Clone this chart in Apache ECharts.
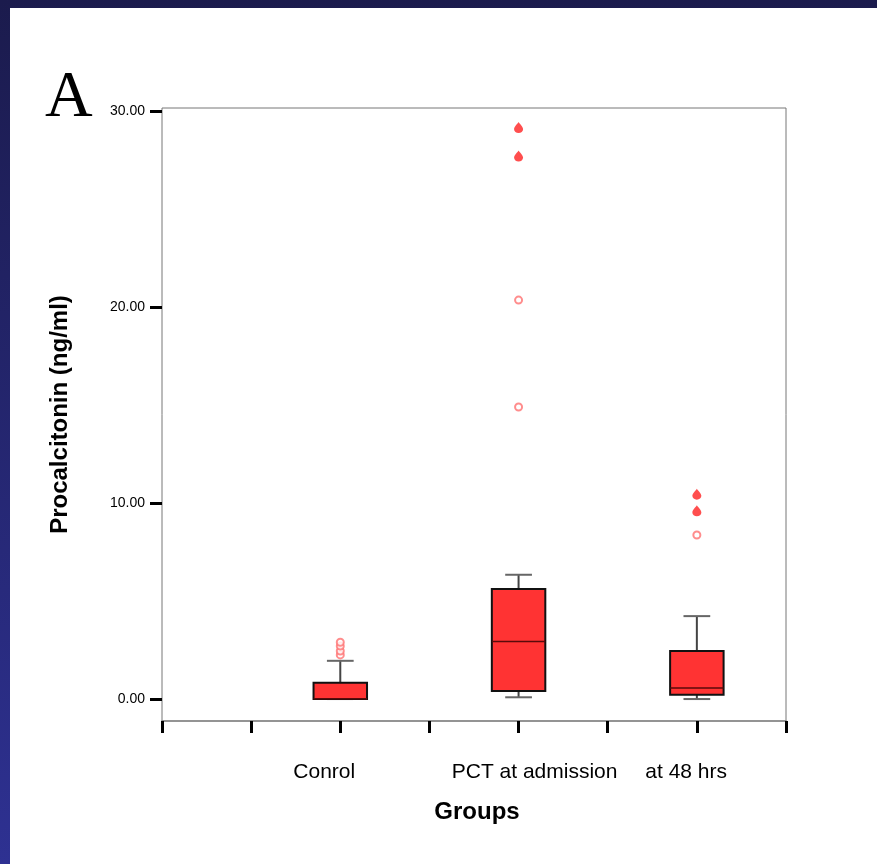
<!DOCTYPE html>
<html>
<head>
<meta charset="utf-8">
<script src="https://cdn.jsdelivr.net/npm/echarts@6/dist/echarts.min.js"></script>
<style>
  html, body { margin: 0; padding: 0; }
  body { width: 877px; height: 864px; background: linear-gradient(#1b1b4d, #2e3192); position: relative; overflow: hidden; }
  #main { position: absolute; left: 10px; top: 8px; width: 867px; height: 856px; background: #fff; }
</style>
</head>
<body>
<div id="main"></div>
<script>
// groups and where they sit on the 0..7 x scale
const groups = ['Conrol', 'PCT at admission', 'at 48 hrs'];
const groupPos = [2, 4, 6];
// label anchors (SPSS draws them a bit off the ticks)
const labelPos = [1.82, 4.18, 5.88];

// [min, Q1, median, Q3, max] per group
const boxStats = [
  [0, 0, 0.02, 0.83, 1.95],
  [0.09, 0.41, 2.94, 5.61, 6.34],
  [0, 0.22, 0.56, 2.45, 4.23]
];
// outliers (o) and extremes (*)
const outliers = [
  [2.25, 2.45, 2.7, 2.9],
  [14.9, 20.35],
  [8.37]
];
const extremes = [
  [],
  [27.7, 29.15],
  [9.6, 10.45]
];
const yTicks = [0, 10, 20, 30];

const font = 'Liberation Sans, Arial, Helvetica, sans-serif';

let boxData = boxStats.map((s, i) => [groupPos[i]].concat(s));
let outData = [];
outliers.forEach((arr, i) => arr.forEach(v => outData.push([groupPos[i], v])));
let extData = [];
extremes.forEach((arr, i) => arr.forEach(v => extData.push([groupPos[i], v])));

function renderBox(params, api) {
  const x = api.value(0);
  const lo = api.coord([x, api.value(1)]);
  const q1 = api.coord([x, api.value(2)]);
  const md = api.coord([x, api.value(3)]);
  const q3 = api.coord([x, api.value(4)]);
  const hi = api.coord([x, api.value(5)]);
  const w = api.size([0.6, 0])[0];
  const cx = q1[0];
  const whisker = {stroke: '#444', lineWidth: 2};
  const cap = {stroke: '#666', lineWidth: 2};
  return {
    type: 'group',
    children: [
      {type: 'line', shape: {x1: cx, y1: q3[1], x2: cx, y2: hi[1]}, style: whisker},
      {type: 'line', shape: {x1: cx, y1: q1[1], x2: cx, y2: lo[1]}, style: whisker},
      {type: 'line', shape: {x1: cx - w / 4, y1: hi[1], x2: cx + w / 4, y2: hi[1]}, style: cap},
      {type: 'line', shape: {x1: cx - w / 4, y1: lo[1], x2: cx + w / 4, y2: lo[1]}, style: cap},
      {type: 'rect', shape: {x: cx - w / 2, y: q3[1], width: w, height: q1[1] - q3[1]},
        style: {fill: '#ff3333', stroke: '#111', lineWidth: 2}},
      {type: 'line', shape: {x1: cx - w / 2, y1: md[1], x2: cx + w / 2, y2: md[1]},
        style: {stroke: '#5a0a0a', lineWidth: 1.5}}
    ]
  };
}

const chart = echarts.init(document.getElementById('main'));
chart.setOption({
  animation: false,
  backgroundColor: '#fff',
  textStyle: {fontFamily: font},
  graphic: [{
    type: 'text', left: 35, top: 58,
    style: {text: 'A', font: '66px "Liberation Serif", "Times New Roman", serif', fill: '#000'}
  }],
  grid: {left: 152, right: 91, top: 100, bottom: 143, show: true, borderColor: '#777', borderWidth: 1},
  xAxis: [{
    type: 'value', min: 0, max: 7, interval: 1, position: 'bottom',
    axisLine: {show: true, onZero: false, lineStyle: {color: '#888', width: 1.5}},
    axisTick: {show: true, length: 12, lineStyle: {color: '#000', width: 3}},
    axisLabel: {show: false},
    splitLine: {show: false}
  }, {
    type: 'value', min: 0, max: 7, position: 'bottom',
    axisLine: {show: false}, axisTick: {show: false}, splitLine: {show: false},
    axisLabel: {
      customValues: labelPos, margin: 41, fontSize: 21, color: '#000', fontFamily: font,
      formatter: v => groups[labelPos.indexOf(v)] || ''
    },
    name: 'Groups', nameLocation: 'middle', nameGap: 79,
    nameTextStyle: {fontSize: 24, fontWeight: 'bold', color: '#000', fontFamily: font, padding: [0, 0, 0, 6]}
  }],
  yAxis: {
    type: 'value', min: -1.12, max: 30.15,
    axisLine: {show: false},
    axisTick: {show: true, customValues: yTicks, length: 12, lineStyle: {color: '#000', width: 3}},
    axisLabel: {customValues: yTicks, formatter: v => v.toFixed(2), fontSize: 14, color: '#000', margin: 17, fontFamily: font},
    splitLine: {show: false},
    name: 'Procalcitonin (ng/ml)', nameLocation: 'middle', nameGap: 90, nameRotate: 90,
    nameTextStyle: {fontSize: 24, fontWeight: 'bold', color: '#000', fontFamily: font}
  },
  series: [{
    type: 'custom', renderItem: renderBox, data: boxData,
    encode: {x: 0, y: [1, 2, 3, 4, 5]}, z: 2
  }, {
    type: 'scatter', data: outData, symbol: 'emptyCircle', symbolSize: 7,
    itemStyle: {color: '#ff7070', borderColor: '#ff6a6a', borderWidth: 1.5}, z: 3
  }, {
    type: 'scatter', data: extData,
    symbol: 'path://M5,0 C4,2 0,6 0,9 A5,5 0 0 0 10,9 C10,6 6,2 5,0 Z', symbolSize: [9, 11],
    itemStyle: {color: '#ff2222'}, z: 3
  }]
});
</script>
</body>
</html>
